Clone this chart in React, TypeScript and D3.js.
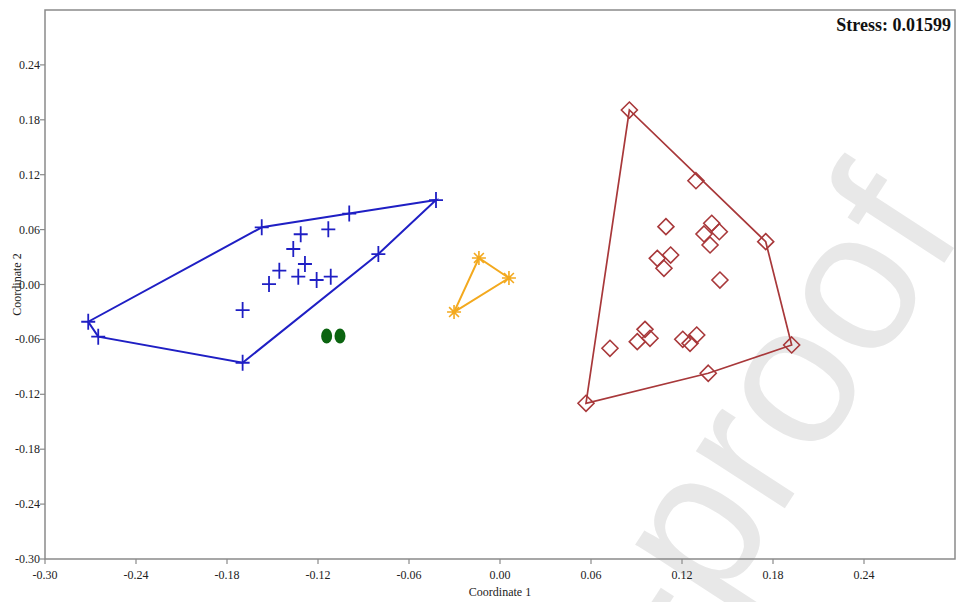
import * as d3 from 'd3'

// NMDS coordinates, one array per group
const BLUE_X = [-0.2715, -0.2649, -0.1697, -0.0802, -0.0422, -0.0994, -0.1571, -0.1697, -0.1523, -0.1455, -0.133, -0.1286, -0.1209, -0.1116, -0.1363, -0.1314, -0.1132]
const BLUE_Y = [-0.0407, -0.057, -0.0855, 0.0333, 0.0923, 0.0775, 0.0625, -0.0279, 0.0005, 0.0151, 0.0085, 0.0224, 0.0049, 0.0085, 0.0388, 0.0549, 0.0603]

const GREEN_X = [-0.1143, -0.1055]
const GREEN_Y = [-0.0563, -0.0563]

const ORANGE_X = [-0.0139, 0.0059, -0.0303]
const ORANGE_Y = [0.029, 0.0071, -0.0301]

const RED_X = [0.0853, 0.1292, 0.1752, 0.1923, 0.1373, 0.0567, 0.1094, 0.1345, 0.1396, 0.1446, 0.1385, 0.1037, 0.1125, 0.1081, 0.145, 0.0725, 0.0905, 0.0956, 0.0989, 0.1205, 0.1253, 0.1297]
const RED_Y = [0.1907, 0.1134, 0.0468, -0.0661, -0.097, -0.1298, 0.0632, 0.0552, 0.0669, 0.0577, 0.0432, 0.0286, 0.0322, 0.0177, 0.0049, -0.0697, -0.0625, -0.049, -0.0588, -0.0599, -0.0643, -0.0552]

const TICKS = [-0.3, -0.24, -0.18, -0.12, -0.06, 0, 0.06, 0.12, 0.18, 0.24]
const STRESS = 'Stress: 0.01599'

const W = 956
const H = 602
const M = { left: 45, right: 955, top: 10, bottom: 559 }

const COLORS = {
  blue: '#1f1fc4',
  green: '#0b6410',
  orange: '#f3a91e',
  red: '#a8383a',
  axis: '#8a8a8a',
}

const zip = (xs: number[], ys: number[]) => xs.map((x, i) => [x, ys[i]] as [number, number])

// plain hyphen minus like the original software
const fmt = (v: number) => d3.format('.2f')(Math.abs(v) < 1e-9 ? 0 : v).replace('\u2212', '-')

export default function App() {
  const x = d3.scaleLinear().domain([-0.3, 0.3]).range([M.left, M.right])
  const y = d3.scaleLinear().domain([-0.3, 0.3]).range([M.bottom, M.top])
  const serif = '"Liberation Serif", "Times New Roman", serif'

  const blue = zip(BLUE_X, BLUE_Y)
  const green = zip(GREEN_X, GREEN_Y)
  const orange = zip(ORANGE_X, ORANGE_Y)
  const red = zip(RED_X, RED_Y)

  const hullPath = (pts: [number, number][]) => {
    const hull = d3.polygonHull(pts.map(([a, b]) => [x(a), y(b)] as [number, number]))
    return hull ? 'M' + hull.join('L') + 'Z' : ''
  }

  return (
    <svg width={W} height={H} style={{ position: 'absolute', left: 0, top: 0, background: '#fff' }}>
      {/* watermark */}
      <text
        transform="translate(965,231) rotate(-57)"
        textAnchor="end"
        fontFamily='"Liberation Sans", Arial, sans-serif'
        fontSize={200}
        fill="#e8e8e8"
      >
        Journal Pre-proof
      </text>

      {/* frame */}
      <rect x={M.left} y={M.top} width={M.right - M.left} height={M.bottom - M.top} fill="none" stroke={COLORS.axis} strokeWidth={1.5} />

      {/* ticks */}
      {TICKS.map((t) => (
        <g key={'x' + t}>
          <line x1={x(t)} x2={x(t)} y1={M.bottom} y2={M.bottom + 5} stroke={COLORS.axis} strokeWidth={1.2} />
          <text x={x(t)} y={M.bottom + 20} textAnchor="middle" fontFamily={serif} fontSize={12} fill="#222">
            {fmt(t)}
          </text>
        </g>
      ))}
      {TICKS.map((t) => (
        <g key={'y' + t}>
          <line x1={M.left - 5} x2={M.left} y1={y(t)} y2={y(t)} stroke={COLORS.axis} strokeWidth={1.2} />
          <text x={M.left - 5} y={y(t) + 4} textAnchor="end" fontFamily={serif} fontSize={12} fill="#222">
            {fmt(t)}
          </text>
        </g>
      ))}

      <text x={(M.left + M.right) / 2} y={596} textAnchor="middle" fontFamily={serif} fontSize={12} fill="#222">
        Coordinate 1
      </text>
      <text transform={`translate(21,${y(0)}) rotate(-90)`} textAnchor="middle" fontFamily={serif} fontSize={12} fill="#222">
        Coordinate 2
      </text>

      {/* hulls */}
      <path d={hullPath(blue)} fill="none" stroke={COLORS.blue} strokeWidth={2} />
      <path d={hullPath(orange)} fill="none" stroke={COLORS.orange} strokeWidth={2} />
      <path d={hullPath(red)} fill="none" stroke={COLORS.red} strokeWidth={1.7} />

      {/* markers */}
      {blue.map(([a, b], i) => (
        <path key={'b' + i} d={`M${x(a) - 7},${y(b)}H${x(a) + 7}M${x(a)},${y(b) - 8}V${y(b) + 8}`} stroke={COLORS.blue} strokeWidth={1.8} />
      ))}
      {green.map(([a, b], i) => (
        <ellipse key={'g' + i} cx={x(a)} cy={y(b)} rx={5.5} ry={7.5} fill={COLORS.green} />
      ))}
      {orange.map(([a, b], i) => {
        const cx = x(a)
        const cy = y(b)
        const r = 7
        const d = r * Math.SQRT1_2
        return (
          <path
            key={'o' + i}
            d={`M${cx - r},${cy}H${cx + r}M${cx},${cy - r}V${cy + r}M${cx - d},${cy - d}L${cx + d},${cy + d}M${cx - d},${cy + d}L${cx + d},${cy - d}`}
            stroke={COLORS.orange}
            strokeWidth={1.6}
          />
        )
      })}
      {red.map(([a, b], i) => {
        const cx = x(a)
        const cy = y(b)
        const r = 8
        return (
          <path key={'r' + i} d={`M${cx},${cy - r}L${cx + r},${cy}L${cx},${cy + r}L${cx - r},${cy}Z`} fill="none" stroke={COLORS.red} strokeWidth={1.6} />
        )
      })}

      <text x={951} y={31} textAnchor="end" fontFamily={serif} fontWeight="bold" fontSize={18} fill="#111">
        {STRESS}
      </text>
    </svg>
  )
}
